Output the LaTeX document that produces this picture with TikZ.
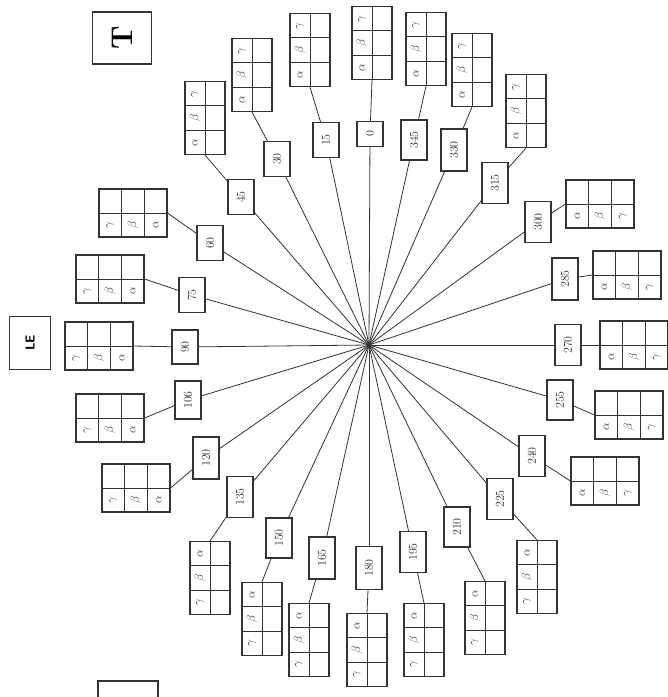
\documentclass[tikz,border=0pt]{standalone}
\usepackage{graphicx}
\usetikzlibrary{calc}
\definecolor{ink}{gray}{0.2}
\tikzset{
  conn/.style={draw=ink, line width=0.8pt},
  lab/.style={draw=ink, line width=1.1pt, fill=white, inner sep=0pt, minimum width=26pt, font=\fontsize{12}{12}\selectfont, text=ink},
  tabv/.style={draw=ink, line width=1.1pt, inner sep=0pt, minimum width=40pt, minimum height=73pt},
  tabh/.style={draw=ink, line width=1.1pt, inner sep=0pt, minimum width=68pt, minimum height=48pt},
  grid/.style={draw=ink, line width=0.9pt},
  greek/.style={inner sep=0pt, text=ink, font=\fontsize{12}{12}\selectfont},
  bigbox/.style={draw=ink, line width=1.3pt, inner sep=0pt},
}
% top tables: 2 cols x 3 rows, left column gamma/beta/alpha from top
\newcommand\TabTop[3]{%
  \node[tabv] (T#1) at (#2,#3) {};
  \draw[grid] (T#1.north) -- (T#1.south);
  \draw[grid] ($(T#1)+(-20,-12.17)$) -- ($(T#1)+(20,-12.17)$);
  \draw[grid] ($(T#1)+(-20,12.17)$) -- ($(T#1)+(20,12.17)$);
  \node[greek] (T#1g) at ($(T#1)+(-10,-24.3)$) {\rotatebox{90}{$\gamma$}};
  \node[greek] (T#1b) at ($(T#1)+(-10,0)$) {\rotatebox{90}{$\beta$}};
  \node[greek] (T#1a) at ($(T#1)+(-10,24.3)$) {\rotatebox{90}{$\alpha$}};
}
% bottom tables: left column alpha/beta/gamma from top
\newcommand\TabBot[3]{%
  \node[tabv] (T#1) at (#2,#3) {};
  \draw[grid] (T#1.north) -- (T#1.south);
  \draw[grid] ($(T#1)+(-20,-12.17)$) -- ($(T#1)+(20,-12.17)$);
  \draw[grid] ($(T#1)+(-20,12.17)$) -- ($(T#1)+(20,12.17)$);
  \node[greek] (T#1a) at ($(T#1)+(-10,-24.3)$) {\rotatebox{90}{$\alpha$}};
  \node[greek] (T#1b) at ($(T#1)+(-10,0)$) {\rotatebox{90}{$\beta$}};
  \node[greek] (T#1g) at ($(T#1)+(-10,24.3)$) {\rotatebox{90}{$\gamma$}};
}
% left tables: 3 cols x 2 rows, bottom row gamma/beta/alpha from left
\newcommand\TabLeft[3]{%
  \node[tabh] (T#1) at (#2,#3) {};
  \draw[grid] (T#1.west) -- (T#1.east);
  \draw[grid] ($(T#1)+(-11.33,-24)$) -- ($(T#1)+(-11.33,24)$);
  \draw[grid] ($(T#1)+(11.33,-24)$) -- ($(T#1)+(11.33,24)$);
  \node[greek] (T#1g) at ($(T#1)+(-22.7,12)$) {\rotatebox{90}{$\gamma$}};
  \node[greek] (T#1b) at ($(T#1)+(0,12)$) {\rotatebox{90}{$\beta$}};
  \node[greek] (T#1a) at ($(T#1)+(22.7,12)$) {\rotatebox{90}{$\alpha$}};
}
% right tables: bottom row alpha/beta/gamma from left
\newcommand\TabRight[3]{%
  \node[tabh] (T#1) at (#2,#3) {};
  \draw[grid] (T#1.west) -- (T#1.east);
  \draw[grid] ($(T#1)+(-11.33,-24)$) -- ($(T#1)+(-11.33,24)$);
  \draw[grid] ($(T#1)+(11.33,-24)$) -- ($(T#1)+(11.33,24)$);
  \node[greek] (T#1a) at ($(T#1)+(-22.7,12)$) {\rotatebox{90}{$\alpha$}};
  \node[greek] (T#1b) at ($(T#1)+(0,12)$) {\rotatebox{90}{$\beta$}};
  \node[greek] (T#1g) at ($(T#1)+(22.7,12)$) {\rotatebox{90}{$\gamma$}};
}
\begin{document}
\begin{tikzpicture}[x=1pt,y=-1pt]
\useasboundingbox (0,0) rectangle (668,697);
\fill[white] (0,0) rectangle (668,697);
\clip (0,0) rectangle (668,697);
\coordinate (C) at (369,345);

\foreach \a/\x/\y/\h/\s/\tx/\ty in {0/370/134/25/0/372/43, 15/326/140/35/15/310/50, 30/277/159/35/30/252/75, 45/241/197/35/45/205/118, 315/495/183/41/315/526/111, 330/454/150/42/330/472/70, 345/414/140/40/345/426/49}{
  \node[lab, minimum height=\h pt] (L\a) at (\x,\y) {\rotatebox{90}{\s}};
  \TabTop{\a}{\tx}{\ty}
  \draw[conn] (C) -- (L\a);
  \draw[conn] (L\a) -- (T\a.south);
}
\foreach \a/\x/\y/\h/\s/\tx/\ty in {60/210/243/35/60/133/213, 75/192/295/35/75/110/279, 90/185/347/34/90/99/346, 105/188/400/38/106/110/418, 120/206/458/42/120/136/488}{
  \node[lab, minimum height=\h pt] (L\a) at (\x,\y) {\rotatebox{90}{\s}};
  \TabLeft{\a}{\tx}{\ty}
  \draw[conn] (C) -- (L\a);
  \draw[conn] (L\a) -- (T\a.east);
}
\foreach \a/\x/\y/\h/\s/\tx/\ty in {135/240/497/41/135/210/578, 150/279/538/40/150/262/619, 165/322/558/42/165/309/640, 180/369/568/43/180/367/650, 195/413/552/41/195/424/640, 210/457/527/40/210/485/618, 225/500/499/41/225/537/577}{
  \node[lab, minimum height=\h pt] (L\a) at (\x,\y) {\rotatebox{90}{\s}};
  \TabBot{\a}{\tx}{\ty}
  \draw[conn] (C) -- (L\a);
  \draw[conn] (L\a) -- (T\a.north);
}
\foreach \a/\x/\y/\h/\s/\tx/\ty in {240/532/456/41/240/605/481, 255/560/400/40/255/629/415, 270/568/345/41/270/634/345, 285/565/279/42/285/627/275, 300/538/222/41/300/600/204}{
  \node[lab, minimum height=\h pt] (L\a) at (\x,\y) {\rotatebox{90}{\s}};
  \TabRight{\a}{\tx}{\ty}
  \draw[conn] (C) -- (L\a);
  \draw[conn] (L\a) -- (T\a.west);
}

\node[bigbox, minimum width=59pt, minimum height=52pt] (boxT) at (122,38)
  {\rotatebox{90}{\fontsize{30}{30}\selectfont\bfseries T}};
\node[bigbox, minimum width=41pt, minimum height=53pt] (boxLE) at (30,343)
  {\rotatebox{90}{\sffamily\bfseries\fontsize{13}{13}\selectfont LE}};
\node[bigbox, minimum width=60pt, minimum height=40pt] (boxB) at (128,701) {};
\end{tikzpicture}
\end{document}
